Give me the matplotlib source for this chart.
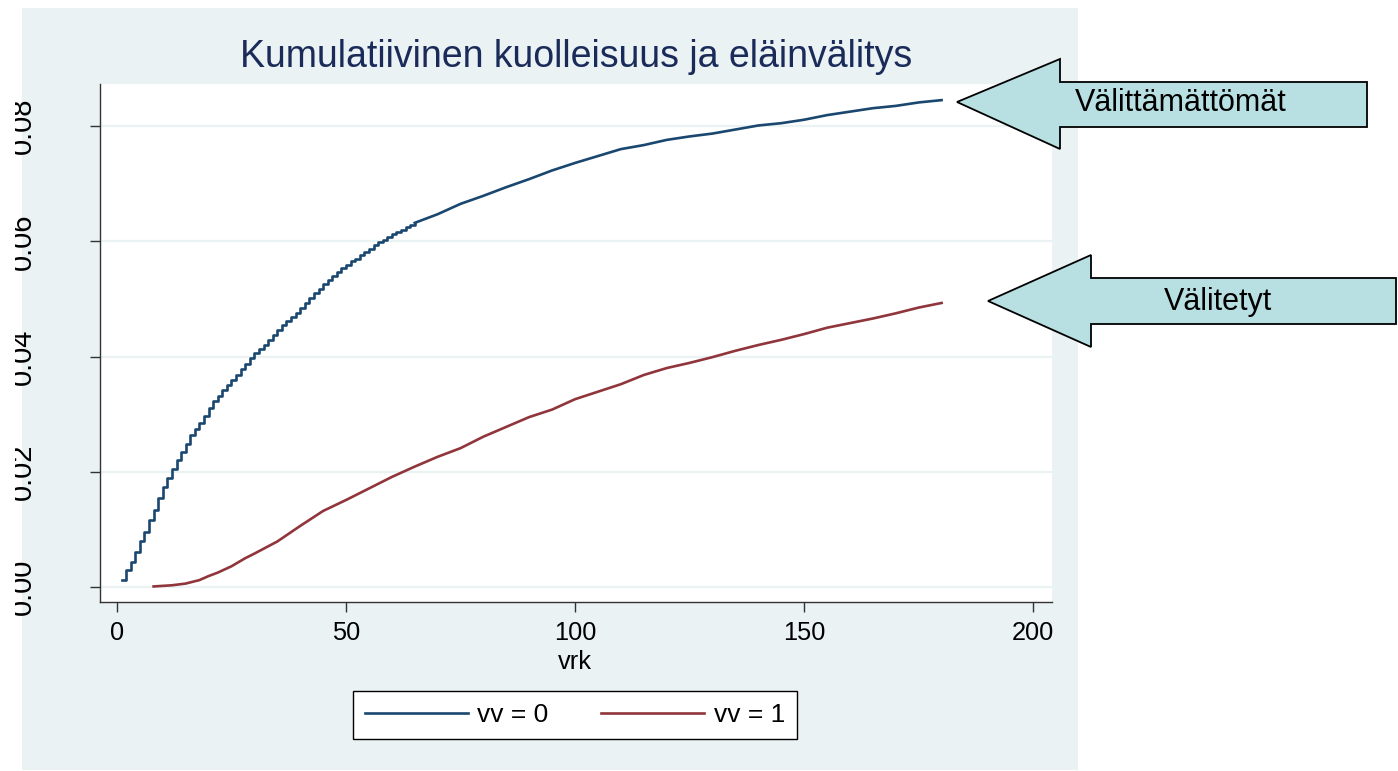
import matplotlib
matplotlib.use("Agg")
import matplotlib.pyplot as plt
from matplotlib.patches import Rectangle, Polygon

plt.rcParams['font.family'] = ['Liberation Sans', 'DejaVu Sans']

# kumulatiivinen kuolleisuus, vv = 0 (paivittaiset portaat alussa, sitten 5 vrk valein)
blue_days_early = list(range(1, 66))
blue_early = [0.0012, 0.0030, 0.0044, 0.0061, 0.0079, 0.0096, 0.0116, 0.0134, 0.0154, 0.0174,
              0.0189, 0.0204, 0.0220, 0.0235, 0.0249, 0.0264, 0.0274, 0.0284, 0.0297, 0.0310,
              0.0322, 0.0332, 0.0342, 0.0351, 0.0359, 0.0368, 0.0378, 0.0387, 0.0397, 0.0406,
              0.0413, 0.0420, 0.0429, 0.0437, 0.0446, 0.0455, 0.0462, 0.0469, 0.0476, 0.0485,
              0.0493, 0.0501, 0.0510, 0.0517, 0.0526, 0.0533, 0.0540, 0.0546, 0.0553, 0.0559,
              0.0565, 0.0570, 0.0576, 0.0582, 0.0587, 0.0593, 0.0599, 0.0603, 0.0608, 0.0612,
              0.0616, 0.0620, 0.0624, 0.0628, 0.0632]
blue_days_late = [65, 70, 75, 80, 85, 90, 95, 100, 105, 110, 115, 120, 125, 130,
                  135, 140, 145, 150, 155, 160, 165, 170, 175, 180]
blue_late = [0.0632, 0.0647, 0.0665, 0.0679, 0.0694, 0.0708, 0.0723,
             0.0736, 0.0748, 0.0760, 0.0767, 0.0776, 0.0782, 0.0787, 0.0794, 0.0801, 0.0805,
             0.0811, 0.0819, 0.0825, 0.0831, 0.0835, 0.0841, 0.0845]

# vv = 1
red_days = [8, 10, 12, 15, 18, 20, 22, 25, 28, 30, 35, 40, 45, 50, 55, 60, 65, 70, 75, 80,
            85, 90, 95, 100, 105, 110, 115, 120, 125, 130, 135, 140, 145, 150, 155, 160, 165,
            170, 175, 180]
red_vals = [0.0001, 0.0002, 0.0003, 0.0006, 0.0012, 0.0019, 0.0025, 0.0036, 0.0050, 0.0058,
            0.0079, 0.0106, 0.0132, 0.0151, 0.0171, 0.0191, 0.0209, 0.0226, 0.0241, 0.0261,
            0.0278, 0.0295, 0.0308, 0.0326, 0.0339, 0.0352, 0.0368, 0.0380, 0.0389, 0.0399,
            0.0410, 0.0420, 0.0429, 0.0439, 0.0450, 0.0458, 0.0466, 0.0475, 0.0485, 0.0493]

xticks = [0, 50, 100, 150, 200]
yticks = [0.0, 0.02, 0.04, 0.06, 0.08]
ytick_labels = ['0.00', '0.02', '0.04', '0.06', '0.08']

W, H = 1398, 771
BLUE = '#1a476f'
RED = '#90353b'
PANEL = '#eaf2f3'


def fx(px):
    return px / W


def fy(py):
    return 1 - py / H


fig = plt.figure(figsize=(W / 100, H / 100), dpi=100, facecolor='white')
fig.patches.append(Rectangle((fx(22), fy(770)), fx(1078) - fx(22), fy(8) - fy(770),
                             transform=fig.transFigure, facecolor=PANEL, edgecolor='none', zorder=-5))

ax = fig.add_axes([fx(100), fy(602), fx(1052) - fx(100), fy(84) - fy(602)])
ax.set_facecolor('white')

ax.step(blue_days_early, blue_early, where='post', color=BLUE, lw=1.9, label='vv = 0', zorder=3)
ax.plot(blue_days_late, blue_late, color=BLUE, lw=1.9, zorder=3)
ax.plot(red_days, red_vals, color=RED, lw=1.9, label='vv = 1', zorder=3)

ax.set_xlim(-3.7, 204.1)
ax.set_ylim(-0.0026, 0.0873)
ax.set_xticks(xticks)
ax.set_yticks(yticks)
ax.set_yticklabels(ytick_labels)
ax.grid(axis='y', color=PANEL, lw=1.6)
ax.set_axisbelow(True)
for s in ['top', 'right']:
    ax.spines[s].set_visible(False)
for s in ['left', 'bottom']:
    ax.spines[s].set_color('#333333')
    ax.spines[s].set_linewidth(1.0)
ax.tick_params(axis='x', length=7.2, width=1.0, color='#333333', labelsize=18.3, pad=6.5)
ax.tick_params(axis='y', length=7.2, width=1.0, color='#333333', labelsize=21, pad=38,
               labelrotation=90)
for lab in ax.get_yticklabels():
    lab.set_va('center')

fig.text(fx(576), fy(67), 'Kumulatiivinen kuolleisuus ja eläinvälitys', ha='center',
         va='baseline', fontsize=27, color='#1a2b5a')
fig.text(fx(575), fy(669), 'vrk', ha='center', va='baseline', fontsize=18.3, color='black')

leg = ax.legend(loc='center', bbox_to_anchor=(fx(575), fy(715)), bbox_transform=fig.transFigure,
                ncol=2, fontsize=19, frameon=True, fancybox=False, framealpha=1,
                handlelength=3.9, handletextpad=0.35, columnspacing=2.0, borderpad=0.45,
                borderaxespad=0)
leg.get_frame().set_edgecolor('black')
leg.get_frame().set_facecolor('white')
leg.get_frame().set_linewidth(1.0)

# valkoinen reuna leikkaa y-akselin tekstit kuten alkuperaisessa
fig.patches.append(Rectangle((0, 0), fx(15), 1, transform=fig.transFigure,
                             facecolor='white', edgecolor='none', zorder=10))

arrows = [
    ([(957, 102), (1060, 59), (1060, 82), (1367, 82), (1367, 127), (1060, 127), (1060, 149)],
     'Välittämättömät', (1181, 103)),
    ([(988, 301), (1091, 255), (1091, 278), (1396, 278), (1396, 324), (1091, 324), (1091, 347)],
     'Välitetyt', (1218, 302)),
]
for pts, txt, (tx, ty) in arrows:
    fig.patches.append(Polygon([(fx(a), fy(b)) for a, b in pts], closed=True,
                               transform=fig.transFigure, facecolor='#b8dfe2',
                               edgecolor='black', lw=1.3, zorder=11))
    fig.text(fx(tx), fy(ty), txt, ha='center', va='center', fontsize=22, color='black', zorder=12)

fig.savefig('out.png', dpi=100, facecolor='white')
